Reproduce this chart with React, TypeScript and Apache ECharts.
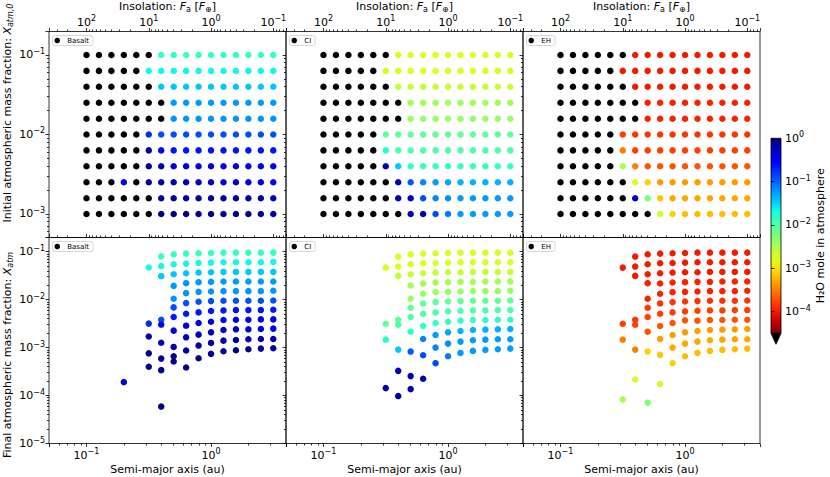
import { useEffect, useRef } from 'react';
import * as echarts from 'echarts';

// ---------------- data ----------------
// semi-major axis grid (au), 16 columns
const semiMajorAxisAu = [0.1, 0.1259, 0.1585, 0.1995, 0.2512, 0.3162, 0.3981, 0.5012, 0.631, 0.7943, 1.0, 1.259, 1.585, 1.995, 2.512, 3.162];
// initial atmospheric mass fraction grid, 11 rows (top to bottom)
const initialAtmFraction = [0.1, 0.0631, 0.0398, 0.0251, 0.0158, 0.01, 0.00631, 0.00398, 0.00251, 0.00158, 0.001];

// log10 of H2O mole fraction in the atmosphere; K = below colour range (drawn black)
const K = -6;
const basaltH2OLog = [
  [K, K, K, K, K, K, -1.85, -1.85, -1.85, -1.85, -1.85, -1.85, -1.85, -1.85, -1.85, -1.85],
  [K, K, K, K, K, -1.66, -1.66, -1.66, -1.66, -1.66, -1.66, -1.66, -1.66, -1.66, -1.66, -1.66],
  [K, K, K, K, K, K, -1.44, -1.44, -1.44, -1.44, -1.44, -1.44, -1.44, -1.44, -1.44, -1.44],
  [K, K, K, K, K, K, K, -1.24, -1.24, -1.24, -1.24, -1.24, -1.24, -1.24, -1.24, -1.24],
  [K, K, K, K, K, K, K, -1.22, -1.22, -1.22, -1.22, -1.22, -1.22, -1.22, -1.22, -1.22],
  [K, K, K, K, K, -0.75, -0.9, -0.9, -0.9, -0.9, -0.9, -0.9, -0.9, -0.9, -0.9, -0.9],
  [K, K, K, K, K, -0.1, -0.55, -0.65, -0.65, -0.65, -0.65, -0.65, -0.65, -0.65, -0.65, -0.65],
  [K, K, K, K, K, -0.05, -0.15, -0.35, -0.35, -0.4, -0.4, -0.45, -0.45, -0.45, -0.45, -0.45],
  [K, K, K, -0.45, K, -0.05, -0.1, -0.15, -0.2, -0.25, -0.25, -0.3, -0.35, -0.4, -0.45, -0.5],
  [K, K, K, K, K, K, -0.05, -0.05, -0.1, -0.1, -0.1, -0.1, -0.15, -0.15, -0.15, -0.2],
  [K, K, K, K, K, K, 0, 0, 0, 0, -0.05, -0.05, -0.05, -0.05, -0.1, -0.1],
];
const ciH2OLog = [
  [K, K, K, K, K, K, -2.75, -2.75, -2.75, -2.75, -2.75, -2.75, -2.75, -2.75, -2.75, -2.75],
  [K, K, K, K, K, -2.75, -2.75, -2.75, -2.75, -2.75, -2.75, -2.75, -2.75, -2.75, -2.75, -2.75],
  [K, K, K, K, K, K, -2.65, -2.65, -2.65, -2.65, -2.65, -2.65, -2.65, -2.65, -2.65, -2.65],
  [K, K, K, K, K, K, K, -2.45, -2.45, -2.45, -2.45, -2.45, -2.45, -2.45, -2.45, -2.45],
  [K, K, K, K, K, K, K, -2.4, -2.4, -2.4, -2.4, -2.4, -2.4, -2.4, -2.4, -2.4],
  [K, K, K, K, K, -2.1, -2.1, -2.1, -2.1, -2.1, -2.1, -2.1, -2.1, -2.1, -2.1, -2.1],
  [K, K, K, K, K, -1.75, -2.0, -2.0, -2.0, -2.0, -2.0, -2.0, -2.0, -2.0, -2.0, -2.0],
  [K, K, K, K, K, -0.2, -1.45, -1.85, -1.85, -1.85, -1.85, -1.85, -1.85, -1.85, -1.85, -1.85],
  [K, K, K, K, K, K, -0.2, -0.95, -1.15, -1.25, -1.3, -1.35, -1.35, -1.35, -1.35, -1.35],
  [K, K, K, K, K, K, -0.1, -0.25, -0.9, -1.15, -1.2, -1.25, -1.25, -1.25, -1.25, -1.25],
  [K, K, K, K, K, K, K, -0.15, -0.2, -0.9, -1.1, -1.25, -1.25, -1.25, -1.25, -1.25],
];
const ehH2OLog = [
  [K, K, K, K, K, K, -4.0, -4.0, -4.0, -4.0, -4.0, -4.0, -4.0, -4.0, -4.0, -4.0],
  [K, K, K, K, K, -4.0, -4.0, -4.0, -4.0, -4.0, -4.0, -4.0, -4.0, -4.0, -4.0, -4.0],
  [K, K, K, K, K, K, -4.0, -4.0, -4.0, -4.0, -4.0, -4.0, -4.0, -4.0, -4.0, -4.0],
  [K, K, K, K, K, K, K, -3.95, -3.95, -3.95, -3.95, -3.95, -3.95, -3.95, -3.95, -3.95],
  [K, K, K, K, K, K, K, -3.95, -3.95, -3.95, -3.95, -3.95, -3.95, -3.95, -3.95, -3.95],
  [K, K, K, K, K, -3.8, -3.85, -3.85, -3.85, -3.85, -3.85, -3.85, -3.85, -3.85, -3.85, -3.85],
  [K, K, K, K, K, -3.5, -3.8, -3.8, -3.8, -3.8, -3.8, -3.8, -3.8, -3.8, -3.8, -3.8],
  [K, K, K, K, K, -2.5, -3.5, -3.7, -3.7, -3.7, -3.7, -3.7, -3.7, -3.7, -3.7, -3.7],
  [K, K, K, K, K, K, -2.75, -3.1, -3.35, -3.35, -3.35, -3.35, -3.35, -3.35, -3.35, -3.35],
  [K, K, K, K, K, K, -0.2, -2.25, -3.15, -3.3, -3.3, -3.3, -3.3, -3.3, -3.3, -3.3],
  [K, K, K, K, K, K, K, K, -2.7, -3.1, -3.2, -3.2, -3.2, -3.2, -3.2, -3.2],
];

// log10 of final atmospheric mass fraction, one array (11 rows) per column
const N = null;
const nullCol = [N, N, N, N, N, N, N, N, N, N, N];
const basaltFinalLogByColumn = [
  nullCol, nullCol, nullCol,
  [N, N, N, N, N, N, N, N, -3.72, N, N],
  nullCol,
  [N, -1.33, N, N, N, -2.5, -2.77, -3.12, -3.4, N, N],
  [-1.1, -1.3, -1.51, N, N, -2.42, -2.52, -2.9, -3.23, -3.47, -4.23],
  [-1.055, -1.262, -1.47, -1.712, -1.982, -2.162, -2.363, -2.647, -2.986, -3.18, -3.291],
  [-1.041, -1.249, -1.449, -1.657, -1.865, -2.072, -2.294, -2.543, -2.786, -3.062, -3.415],
  [-1.034, -1.235, -1.436, -1.636, -1.837, -2.045, -2.266, -2.488, -2.73, -2.958, -3.222],
  [-1.027, -1.228, -1.429, -1.629, -1.83, -2.031, -2.238, -2.46, -2.682, -2.903, -3.131],
  [-1.02, -1.221, -1.422, -1.622, -1.823, -2.024, -2.225, -2.425, -2.633, -2.855, -3.076],
  [-1.02, -1.221, -1.422, -1.622, -1.823, -2.024, -2.218, -2.419, -2.619, -2.841, -3.055],
  [-1.02, -1.221, -1.422, -1.622, -1.823, -2.024, -2.218, -2.419, -2.619, -2.827, -3.035],
  [-1.02, -1.221, -1.422, -1.622, -1.823, -2.024, -2.218, -2.412, -2.612, -2.82, -3.021],
  [-1.02, -1.214, -1.422, -1.622, -1.816, -2.017, -2.211, -2.412, -2.605, -2.82, -3.014],
];
const ciFinalLogByColumn = [
  nullCol, nullCol, nullCol, nullCol, nullCol,
  [N, -1.332, N, N, N, -2.502, -2.834, -3.845, N, N, N],
  [-1.103, -1.311, -1.505, N, N, -2.419, -2.522, -3.042, -3.485, -4.011, N],
  [-1.055, -1.262, -1.47, -1.705, -1.982, -2.169, -2.363, -2.668, -3.083, -3.595, -3.866],
  [-1.041, -1.242, -1.449, -1.664, -1.878, -2.079, -2.294, -2.55, -2.82, -3.159, -3.651],
  [-1.034, -1.235, -1.436, -1.643, -1.844, -2.052, -2.266, -2.488, -2.737, -3.0, -3.325],
  [-1.027, -1.228, -1.429, -1.636, -1.837, -2.038, -2.245, -2.46, -2.682, -2.917, -3.18],
  [-1.02, -1.221, -1.429, -1.629, -1.83, -2.031, -2.232, -2.439, -2.654, -2.875, -3.111],
  [-1.02, -1.221, -1.422, -1.629, -1.823, -2.024, -2.225, -2.425, -2.633, -2.848, -3.069],
  [-1.02, -1.221, -1.422, -1.622, -1.823, -2.024, -2.225, -2.425, -2.626, -2.834, -3.048],
  [-1.02, -1.221, -1.422, -1.622, -1.823, -2.024, -2.218, -2.419, -2.619, -2.827, -3.035],
  [-1.02, -1.221, -1.422, -1.622, -1.816, -2.017, -2.218, -2.419, -2.612, -2.827, -3.021],
];
const ehFinalLogByColumn = [
  nullCol, nullCol, nullCol, nullCol, nullCol,
  [N, -1.332, N, N, N, -2.502, -2.834, -4.08, N, N, N],
  [-1.103, -1.311, -1.505, N, N, -2.419, -2.522, -3.042, -3.665, N, N],
  [-1.055, -1.262, -1.47, -1.657, -1.982, -2.169, -2.363, -2.668, -3.083, -4.149, N],
  [-1.041, -1.242, -1.449, -1.664, -1.878, -2.079, -2.294, -2.55, -2.82, -3.152, -3.761],
  [-1.034, -1.235, -1.436, -1.643, -1.844, -2.052, -2.266, -2.488, -2.737, -3.0, -3.325],
  [-1.027, -1.228, -1.429, -1.636, -1.837, -2.038, -2.245, -2.432, -2.682, -2.917, -3.18],
  [-1.02, -1.221, -1.429, -1.629, -1.83, -2.031, -2.232, -2.439, -2.654, -2.875, -3.111],
  [-1.02, -1.221, -1.422, -1.629, -1.823, -2.024, -2.225, -2.425, -2.633, -2.848, -3.069],
  [-1.02, -1.221, -1.422, -1.622, -1.823, -2.024, -2.225, -2.425, -2.626, -2.834, -3.048],
  [-1.02, -1.221, -1.422, -1.622, -1.823, -2.024, -2.218, -2.419, -2.619, -2.827, -3.035],
  [-1.02, -1.221, -1.422, -1.622, -1.816, -2.017, -2.218, -2.419, -2.612, -2.827, -3.021],
];

const compositions = ['Basalt', 'CI', 'EH'];
const h2oGrids = [basaltH2OLog, ciH2OLog, ehH2OLog];
const finalGrids = [basaltFinalLogByColumn, ciFinalLogByColumn, ehFinalLogByColumn];

// colour scale (log10 H2O mole fraction)
const colorMin = -4.5;
const colorMax = 0;
// jet colormap samples (t = 0 .. 1 in steps of 1/16)
const jetSamples = ['#000080', '#0000c8', '#0000ff', '#0040ff', '#0080ff', '#00bfff', '#15ffe2', '#48ffaf', '#7bff7b', '#afff48', '#e2ff15', '#ffd200', '#ff9700', '#ff5c00', '#ff2100', '#c80000', '#800000'];

// ---------------- layout ----------------
const FONT = 'DejaVu Sans';
const panelLeft = [49, 286, 523];
const panelTop = [31.5, 237.5];
const panelW = 237;
const panelH = 206;
const cbar = { left: 771, top: 138.3, width: 10, height: 195 };

const supLabel = (v: number) => {
  const e = Math.log10(v);
  const r = Math.round(e);
  if (Math.abs(e - r) > 1e-6) return '';
  return `{b|10}{s|${r < 0 ? '\u2212' : ''}${Math.abs(r)}}`;
};
const tickRich = {
  b: { fontSize: 11, fontFamily: FONT, color: '#000', lineHeight: 15 },
  s: { fontSize: 8, fontFamily: FONT, color: '#000', lineHeight: 9, verticalAlign: 'top' },
};
const tickStyle = { lineStyle: { color: '#000', width: 0.8 } };

function buildOption() {
  const grid: any[] = [];
  const xAxis: any[] = [];
  const yAxis: any[] = [];
  const series: any[] = [];
  const legend: any[] = [];

  for (let row = 0; row < 2; row++) {
    for (let col = 0; col < 3; col++) {
      const p = row * 3 + col;
      grid.push({
        left: panelLeft[col], top: panelTop[row], width: panelW, height: panelH,
        show: true, borderColor: '#000', borderWidth: 0.8, backgroundColor: 'transparent',
      });
      // bottom axis: semi-major axis
      xAxis.push({
        type: 'log', gridIndex: p, min: 0.05, max: 4, position: 'bottom',
        axisLine: { show: false },
        axisTick: { show: row === 1, length: 3.5, inside: false, ...tickStyle },
        minorTick: { show: row === 1, splitNumber: 9, length: 2, ...tickStyle },
        axisLabel: { show: row === 1, formatter: supLabel, rich: tickRich, margin: 4 },
        splitLine: { show: false },
        name: row === 1 ? 'Semi-major axis (au)' : '',
        nameLocation: 'middle', nameGap: 20,
        nameTextStyle: { fontSize: 11, fontFamily: FONT, color: '#000' },
      });
      // top axis: insolation = a^-2
      xAxis.push({
        type: 'log', gridIndex: p, min: 1 / 16, max: 400, position: 'top', inverse: true,
        axisLine: { show: false },
        axisTick: { show: true, length: 3.5, ...tickStyle },
        minorTick: { show: true, splitNumber: 9, length: 2, ...tickStyle },
        axisLabel: { show: row === 0, formatter: supLabel, rich: tickRich, margin: 2 },
        splitLine: { show: false },
        name: row === 0 ? 'Insolation: {i|F}{sb|a} [{i|F}{sb|\u2295}]' : '',
        nameLocation: 'middle', nameGap: 15,
        nameTextStyle: {
          fontSize: 11, fontFamily: FONT, color: '#000',
          rich: {
            i: { fontSize: 11, fontFamily: FONT, fontStyle: 'italic', color: '#000', lineHeight: 14 },
            sb: { fontSize: 8, fontFamily: FONT, color: '#000', verticalAlign: 'bottom', lineHeight: 8 },
          },
        },
      });
      yAxis.push({
        type: 'log', gridIndex: p,
        min: row === 0 ? 5.06e-4 : 1e-5, max: 0.1975,
        axisLine: { show: false },
        axisTick: { show: true, length: 3.5, ...tickStyle },
        minorTick: { show: true, splitNumber: 9, length: 2, ...tickStyle },
        axisLabel: { show: col === 0, formatter: supLabel, rich: tickRich, margin: 4 },
        splitLine: { show: false },
      });

      const h2o = h2oGrids[col];
      const data: number[][] = [];
      if (row === 0) {
        initialAtmFraction.forEach((x0, r) => {
          semiMajorAxisAu.forEach((a, c) => data.push([a, x0, h2o[r][c]]));
        });
      } else {
        finalGrids[col].forEach((colVals, c) => {
          colVals.forEach((fl, r) => {
            if (fl !== null) data.push([semiMajorAxisAu[c], Math.pow(10, fl), h2o[r][c]]);
          });
        });
      }
      series.push({
        type: 'scatter', name: compositions[col],
        xAxisIndex: p * 2, yAxisIndex: p,
        symbolSize: 6.5, data,
        itemStyle: { opacity: 1 },
      });
      legend.push({
        data: [{ name: compositions[col], itemStyle: { color: '#000' } }],
        left: panelLeft[col] + 3.5, top: panelTop[row] + 4,
        icon: 'circle', itemWidth: 12, itemHeight: 5.5, itemGap: 4,
        selectedMode: false,
        textStyle: { fontSize: 7, fontFamily: FONT, color: '#000', padding: [0, 0, 0, -1] },
        borderColor: '#cccccc', borderWidth: 0.8, borderRadius: 2,
        padding: [1.5, 4, 1.5, 2], backgroundColor: '#fff',
      });
    }
  }

  // colour bar
  const cbIdx = grid.length;
  const stops = jetSamples.map((c, i) => ({ offset: i / (jetSamples.length - 1), color: c }));
  grid.push({
    left: cbar.left, top: cbar.top, width: cbar.width, height: cbar.height,
    show: true, borderColor: '#000', borderWidth: 0.8,
    backgroundColor: new echarts.graphic.LinearGradient(0, 0, 0, 1, stops),
  });
  xAxis.push({ type: 'value', gridIndex: cbIdx, show: false, min: 0, max: 1 });
  yAxis.push({
    type: 'log', gridIndex: cbIdx, position: 'right',
    min: Math.pow(10, colorMin), max: Math.pow(10, colorMax),
    axisLine: { show: false },
    axisTick: { show: true, length: 3.5, ...tickStyle },
    axisLabel: { formatter: supLabel, rich: tickRich, margin: 4 },
    splitLine: { show: false },
    name: 'H\u2082O mole in atmosphere',
    nameLocation: 'middle', nameGap: 33, nameRotate: 90,
    nameTextStyle: { fontSize: 11, fontFamily: FONT, color: '#000' },
  });

  return {
    animation: false,
    backgroundColor: '#fff',
    grid, xAxis, yAxis, series, legend,
    visualMap: {
      type: 'continuous', show: false, min: colorMin, max: colorMax, dimension: 2,
      range: [colorMin + 0.001, colorMax],
      seriesIndex: [0, 1, 2, 3, 4, 5],
      inRange: { color: jetSamples.slice().reverse() },
      outOfRange: { color: '#000' },
    },
    graphic: [
      {
        type: 'polygon',
        shape: { points: [[cbar.left, cbar.top + cbar.height], [cbar.left + cbar.width, cbar.top + cbar.height], [cbar.left + cbar.width / 2, cbar.top + cbar.height + 11]] },
        style: { fill: '#000', stroke: '#000', lineWidth: 0.8 },
      },
      {
        type: 'text', x: 7, y: 113, rotation: Math.PI / 2,
        style: {
          text: 'Initial atmospheric mass fraction: {i|X}{sb|atm,0}',
          align: 'center', verticalAlign: 'middle',
          font: `11px "${FONT}"`, fill: '#000',
          rich: {
            i: { fontSize: 11, fontFamily: FONT, fontStyle: 'italic', fill: '#000', lineHeight: 14 },
            sb: { fontSize: 8, fontFamily: FONT, fontStyle: 'italic', fill: '#000', verticalAlign: 'bottom', lineHeight: 8 },
          },
        },
      },
      {
        type: 'text', x: 7, y: 355, rotation: Math.PI / 2,
        style: {
          text: 'Final atmospheric mass fraction: {i|X}{sb|atm}',
          align: 'center', verticalAlign: 'middle',
          font: `11px "${FONT}"`, fill: '#000',
          rich: {
            i: { fontSize: 11, fontFamily: FONT, fontStyle: 'italic', fill: '#000', lineHeight: 14 },
            sb: { fontSize: 8, fontFamily: FONT, fontStyle: 'italic', fill: '#000', verticalAlign: 'bottom', lineHeight: 8 },
          },
        },
      },
    ],
  };
}

export default function App() {
  const ref = useRef<HTMLDivElement>(null);
  useEffect(() => {
    const chart = echarts.init(ref.current!, null, { renderer: 'svg' });
    chart.setOption(buildOption() as any);
    return () => chart.dispose();
  }, []);
  return <div ref={ref} style={{ position: 'fixed', left: 0, top: 0, width: 830, height: 477 }} />;
}
